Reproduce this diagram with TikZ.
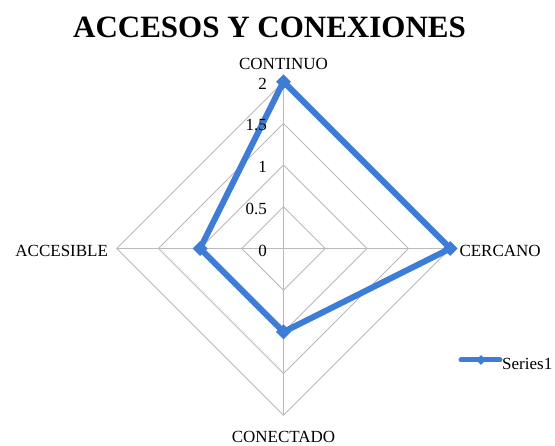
\documentclass[tikz,border=0pt]{standalone}
\usepackage{fontspec}
\setmainfont{Liberation Serif}
\usetikzlibrary{shapes.geometric}
\definecolor{seriesBlue}{RGB}{62,125,214}
\def\chartX{283.5}
\def\chartY{248.5}
\def\gridStep{41.7}
\tikzset{
  gridLine/.style={draw=black!27,line width=0.9pt},
  seriesLine/.style={draw=seriesBlue,line width=6pt,line join=round},
  markNode/.style={diamond,fill=seriesBlue,inner sep=0pt,minimum size=15pt},
  axisLabel/.style={font=\fontsize{17}{17}\selectfont,inner sep=0pt},
  tickLabel/.style={axisLabel,anchor=east}
}

\begin{document}
\begin{tikzpicture}[x=1pt,y=-1pt]
    \useasboundingbox (0,0) rectangle (555,446);

    \node[font=\bfseries\fontsize{31}{31}\selectfont,inner sep=0pt] (title) at (269.5,27) {ACCESOS Y CONEXIONES};

    \begin{scope}[shift={(\chartX,\chartY)}]
      % grid
      \foreach \r in {1,...,4}
        \draw[gridLine] (0,-\r*\gridStep) -- (\r*\gridStep,0) -- (0,\r*\gridStep) -- (-\r*\gridStep,0) -- cycle;
      \draw[gridLine] (0,-4*\gridStep) -- (0,4*\gridStep);
      \draw[gridLine] (-4*\gridStep,0) -- (4*\gridStep,0);

      % axis names
      \node[axisLabel] (continuo) at (0,-4*\gridStep-18) {CONTINUO};
      \node[axisLabel,anchor=west] (cercano) at (4*\gridStep+9,2.5) {CERCANO};
      \node[axisLabel] (conectado) at (0,188.5) {CONECTADO};
      \node[axisLabel,anchor=east] (accesible) at (-4*\gridStep-8.5,2.5) {ACCESIBLE};

      % series
      \node[markNode] (pContinuo) at (0,-4*\gridStep) {};
      \node[markNode] (pCercano) at (4*\gridStep,0) {};
      \node[markNode] (pConectado) at (0,2*\gridStep) {};
      \node[markNode] (pAccesible) at (-2*\gridStep,0) {};
      \draw[seriesLine] (pContinuo.center) -- (pCercano.center) -- (pConectado.center) -- (pAccesible.center) -- cycle;

      % tick values on top of the series
      \foreach \v [count=\i from 0] in {0,0.5,1,1.5,2}
        \node[tickLabel] (tick\i) at (-16.5,-\i*\gridStep+2) {\v};
    \end{scope}

    % legend
    \coordinate (legStart) at (461,360);
    \coordinate (legEnd) at (500,360);
    \draw[seriesLine,line width=5pt,line cap=round] (legStart) -- (legEnd);
    \node[markNode,minimum size=10pt] (legMark) at (481,360) {};
    \node[axisLabel,anchor=west] (legText) at (502,364) {Series1};
\end{tikzpicture}
\end{document}
